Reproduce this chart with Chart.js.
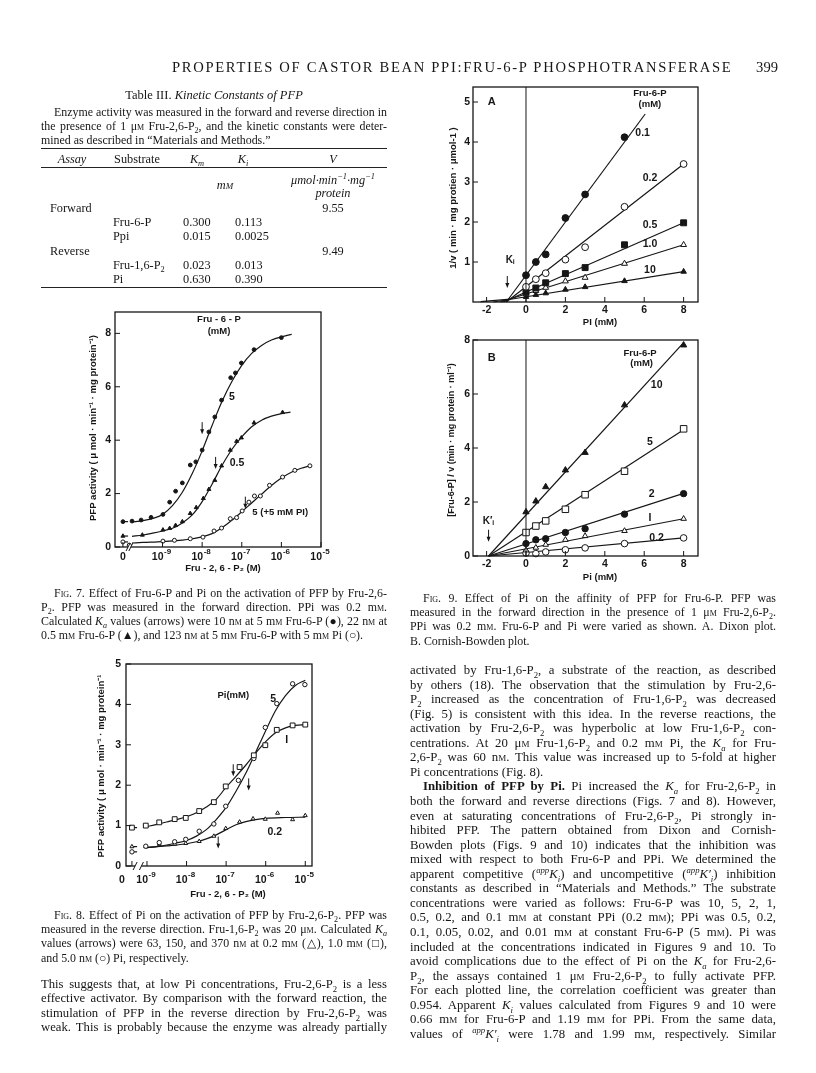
<!DOCTYPE html>
<html>
<head>
<meta charset="utf-8">
<title>Properties of castor bean PPi:Fru-6-P phosphotransferase</title>
<script src="https://cdn.jsdelivr.net/npm/chart.js@4.4.1/dist/chart.umd.min.js"></script>
<style>
  html, body { margin: 0; padding: 0; background: #fff; }
  #page { position: relative; width: 816px; height: 1073px; overflow: hidden;
          font-family: "Liberation Serif", "Times New Roman", serif; color: #161616; }
  .l { position: absolute; white-space: nowrap; line-height: 14px; height: 14px; }
  .j { text-align: justify; text-align-last: justify; }
  .c { text-align: center; }
  .sc { font-variant: small-caps; }
  sub, sup { font-size: 68%; line-height: 0; }
  .rule { position: absolute; height: 0; border-top: 1px solid #222; }
  canvas { position: absolute; left: 0; top: 0; }
</style>
</head>
<body>
<div id="page">
  <canvas id="fig7" width="816" height="1073"></canvas>
  <canvas id="fig8" width="816" height="1073"></canvas>
  <canvas id="fig9a" width="816" height="1073"></canvas>
  <canvas id="fig9b" width="816" height="1073"></canvas>
</div>
<script>
// ---------- Fig. 7 : forward direction, log10[Fru-2,6-P2] (M); null = no activator ----------
const f7Fru5X = [null, -9.77, -9.54, -9.29, -8.99, -8.82, -8.67, -8.5, -8.3, -8.16, -8.0, -7.83, -7.68, -7.51, -7.28, -7.16, -7.01, -6.69, -6.0];
const f7Fru5Y = [0.95, 0.97, 1.01, 1.11, 1.22, 1.68, 2.09, 2.4, 3.07, 3.19, 3.63, 4.31, 4.87, 5.5, 6.34, 6.52, 6.89, 7.39, 7.84];
const f7Fru05X = [null, -9.51, -8.99, -8.82, -8.67, -8.5, -8.3, -8.15, -7.97, -7.83, -7.68, -7.51, -7.29, -7.13, -7.01, -6.69, -5.97];
const f7Fru05Y = [0.41, 0.45, 0.64, 0.7, 0.81, 0.95, 1.26, 1.48, 1.82, 2.16, 2.5, 3.04, 3.63, 3.96, 4.09, 4.65, 5.04];
const f7PiX = [null, -9.84, -8.99, -8.7, -8.3, -7.98, -7.7, -7.51, -7.29, -7.13, -6.99, -6.82, -6.68, -6.53, -6.3, -5.97, -5.66, -5.28];
const f7PiY = [0.19, 0.07, 0.22, 0.25, 0.31, 0.37, 0.6, 0.71, 1.06, 1.1, 1.35, 1.68, 1.91, 1.91, 2.31, 2.62, 2.87, 3.04];
const f7Curve5 = [[-9.77, 0.93], [-9.5, 0.99], [-9.25, 1.07], [-9, 1.22], [-8.75, 1.55], [-8.5, 2.05], [-8.25, 2.75], [-8, 3.6], [-7.75, 4.55], [-7.5, 5.45], [-7.25, 6.2], [-7, 6.8], [-6.75, 7.25], [-6.5, 7.55], [-6.25, 7.75], [-6, 7.87], [-5.74, 7.96]];
const f7Curve05 = [[-9.77, 0.4], [-9.5, 0.45], [-9.25, 0.52], [-9, 0.6], [-8.75, 0.7], [-8.5, 0.9], [-8.25, 1.2], [-8, 1.7], [-7.75, 2.35], [-7.5, 3.05], [-7.25, 3.65], [-7, 4.12], [-6.75, 4.5], [-6.5, 4.75], [-6.25, 4.9], [-6, 4.99], [-5.77, 5.05]];
const f7CurvePi = [[-9.77, 0.15], [-9.5, 0.17], [-9, 0.2], [-8.5, 0.26], [-8.25, 0.31], [-8, 0.38], [-7.75, 0.5], [-7.5, 0.72], [-7.25, 1.0], [-7, 1.32], [-6.75, 1.65], [-6.5, 1.98], [-6.25, 2.3], [-6, 2.58], [-5.75, 2.8], [-5.5, 2.95], [-5.28, 3.04]];
const f7Ka = [[-8.0, 4.45], [-7.66, 3.15], [-6.91, 1.66]];   // 10, 22, 123 nM
const f7Decades = [-9, -8, -7, -6, -5];

// ---------- Fig. 8 : reverse direction ----------
const f8Pi1X = [null, -9.03, -8.69, -8.3, -8.02, -7.68, -7.31, -7.01, -6.66, -6.3, -6.01, -5.72, -5.32, -5.0];
const f8Pi1Y = [0.95, 1.0, 1.08, 1.16, 1.19, 1.36, 1.58, 1.97, 2.45, 2.74, 2.99, 3.37, 3.48, 3.5];
const f8Pi5X = [null, -9.03, -8.69, -8.3, -8.02, -7.68, -7.31, -7.01, -6.69, -6.3, -6.01, -5.72, -5.32, -5.01];
const f8Pi5Y = [0.35, 0.49, 0.58, 0.6, 0.66, 0.86, 1.04, 1.48, 2.12, 2.66, 3.43, 4.02, 4.51, 4.49];
const f8Pi02X = [null, -9.03, -8.69, -8.3, -8.02, -7.68, -7.31, -7.01, -6.66, -6.32, -6.01, -5.7, -5.32, -5.0];
const f8Pi02Y = [0.48, 0.48, 0.54, 0.54, 0.56, 0.61, 0.74, 0.93, 1.09, 1.17, 1.16, 1.31, 1.15, 1.25];
const f8Curve1 = [[-9.03, 0.97], [-8.75, 1.03], [-8.5, 1.09], [-8.25, 1.15], [-8, 1.22], [-7.75, 1.32], [-7.5, 1.46], [-7.25, 1.65], [-7, 1.95], [-6.75, 2.22], [-6.5, 2.5], [-6.25, 2.8], [-6, 3.08], [-5.75, 3.3], [-5.5, 3.42], [-5.25, 3.48], [-5, 3.5]];
const f8Curve5 = [[-9.03, 0.45], [-8.75, 0.48], [-8.5, 0.52], [-8.25, 0.57], [-8, 0.63], [-7.75, 0.74], [-7.5, 0.9], [-7.25, 1.15], [-7, 1.45], [-6.75, 1.85], [-6.5, 2.3], [-6.25, 2.82], [-6, 3.35], [-5.75, 3.85], [-5.5, 4.22], [-5.25, 4.47], [-5, 4.6]];
const f8Curve02 = [[-9.03, 0.46], [-8.75, 0.48], [-8.5, 0.5], [-8.25, 0.52], [-8, 0.55], [-7.75, 0.6], [-7.5, 0.67], [-7.25, 0.77], [-7, 0.9], [-6.75, 1.02], [-6.5, 1.1], [-6.25, 1.15], [-6, 1.18], [-5.5, 1.2], [-5, 1.21]];
const f8Ka = [[-6.82, 2.37], [-6.43, 2.02], [-7.2, 0.58]];    // 150, 370, 63 nM
const f8Decades = [-9, -8, -7, -6, -5];

// ---------- Fig. 9 : Pi (mM) ----------
const f9Pi = [0, 0.5, 1, 2, 3, 5, 8];
const f9aFru01 = [0.67, 1.0, 1.19, 2.1, 2.69, 4.12];
const f9aFru02 = [0.38, 0.57, 0.72, 1.06, 1.37, 2.38, 3.45];
const f9aFru05 = [0.25, 0.35, 0.48, 0.71, 0.86, 1.43, 1.98];
const f9aFru1 = [0.2, 0.28, 0.36, 0.52, 0.61, 0.96, 1.43];
const f9aFru10 = [0.13, 0.18, 0.22, 0.31, 0.375, 0.525, 0.76];
const f9aLines = [[[-1.0, 0], [6.05, 4.7]], [[-1.0, 0], [8, 3.45]], [[-1.15, 0], [8, 1.98]], [[-1.3, 0], [8, 1.43]], [[-1.65, 0], [8, 0.76]], [[-2.3, 0.01], [-0.8, 0.07]]];
const f9bFru10 = [1.63, 2.03, 2.56, 3.18, 3.83, 5.59, 7.81];
const f9bFru5 = [0.87, 1.11, 1.3, 1.73, 2.27, 3.14, 4.71];
const f9bFru2 = [0.46, 0.6, 0.64, 0.87, 1.01, 1.55, 2.31];
const f9bFru1 = [0.21, 0.31, 0.42, 0.6, 0.74, 0.93, 1.38];
const f9bFru02 = [0.11, 0.09, 0.15, 0.23, 0.3, 0.46, 0.67];
const f9bLines = [[[-1.9, 0], [8, 7.9]], [[-1.9, 0], [8, 4.68]], [[-1.9, 0], [8, 2.32]], [[-1.9, 0], [8, 1.38]], [[-1.9, 0], [8, 0.67]]];
const f9Ticks = [-2, 0, 2, 4, 6, 8];

const INK = '#161616';
const SANS = '"Liberation Sans", Arial, sans-serif';

// ---------- page text ----------
const page = document.getElementById('page');
function put(html, css, cls) {
  const d = document.createElement('div');
  d.className = cls || 'l';
  d.style.cssText = css;
  d.innerHTML = html.replace(/<sc>/g, '<span class="sc">').replace(/<\/sc>/g, '</span>');
  page.appendChild(d);
  return d;
}
function lines(x, w, y0, step, size, arr) {
  arr.forEach((s, i) => {
    let left = x, width = w, cls = 'l j';
    if (s[0] === '>') { s = s.slice(1); left += 13; width -= 13; }
    if (s[0] === '~') { s = s.slice(1); cls = 'l'; }
    put(s, `left:${left}px;top:${(y0 + i * step - 7).toFixed(1)}px;width:${width}px;font-size:${size}px`, cls);
  });
}
function rule(x, y, w) { const d = document.createElement('div'); d.className = 'rule'; d.style.cssText = `left:${x}px;top:${y}px;width:${w}px`; page.appendChild(d); }

// running head: letter-spaced to span 172..731
const head = put('PROPERTIES OF CASTOR BEAN PPI:FRU-6-P PHOSPHOTRANSFERASE', 'left:172px;top:59px;font-size:14.6px;line-height:16px;height:16px', 'l');
const headLen = head.textContent.length;
head.style.letterSpacing = ((559 - head.getBoundingClientRect().width) / (headLen - 1)).toFixed(2) + 'px';
put('399', 'left:740px;top:59px;width:38px;font-size:14.6px;line-height:16px;text-align:right', 'l');

put('Table III. <i>Kinetic Constants of PFP</i>', 'left:41px;top:88px;width:346px;font-size:12.5px', 'l c');
lines(41, 346, 111.7, 14.2, 11.9, [
  '>Enzyme activity was measured in the forward and reverse direction in',
  'the presence of 1 μ<sc>m</sc> Fru-2,6-P<sub>2</sub>, and the kinetic constants were deter-',
  '~mined as described in “Materials and Methods.”'
]);
rule(41, 148, 346); rule(41, 167, 346); rule(41, 286.5, 346);
const cell = (h, cx, cy, extra) => put(h, `left:${cx - 60}px;top:${cy - 7}px;width:120px;font-size:12.3px;${extra || ''}`, 'l c');
const cellL = (h, x, cy) => put(h, `left:${x}px;top:${cy - 7}px;font-size:12.3px`, 'l');
cell('<i>Assay</i>', 72, 158.5); cell('Substrate', 137, 158.5); cell('<i>K<sub>m</sub></i>', 197, 158.5);
cell('<i>K<sub>i</sub></i>', 243, 158.5); cell('<i>V</i>', 333, 158.5);
cell('<i>m<sc>m</sc></i>', 225, 185);
cell('<i>μmol·min<sup>−1</sup>·mg<sup>−1</sup></i>', 333, 179.5); cell('<i>protein</i>', 333, 193);
cellL('Forward', 50, 208.3); cell('9.55', 333, 208.3);
cellL('Fru-6-P', 113, 222.2); cellL('0.300', 183, 222.2); cellL('0.113', 235, 222.2);
cellL('Ppi', 113, 236.4); cellL('0.015', 183, 236.4); cellL('0.0025', 235, 236.4);
cellL('Reverse', 50, 250.5); cell('9.49', 333, 250.5);
cellL('Fru-1,6-P<sub>2</sub>', 113, 264.6); cellL('0.023', 183, 264.6); cellL('0.013', 235, 264.6);
cellL('Pi', 113, 278.6); cellL('0.630', 183, 278.6); cellL('0.390', 235, 278.6);

lines(41, 346, 592.5, 14.2, 11.9, [
  '>F<sc>ig</sc>. 7. Effect of Fru-6-P and Pi on the activation of PFP by Fru-2,6-',
  'P<sub>2</sub>. PFP was measured in the forward direction. PPi was 0.2 m<sc>m</sc>.',
  'Calculated <i>K<sub>a</sub></i> values (arrows) were 10 n<sc>m</sc> at 5 m<sc>m</sc> Fru-6-P (●), 22 n<sc>m</sc> at',
  '~0.5 m<sc>m</sc> Fru-6-P (▲), and 123 n<sc>m</sc> at 5 m<sc>m</sc> Fru-6-P with 5 m<sc>m</sc> Pi (○).'
]);
lines(41, 346, 915, 14.2, 11.9, [
  '>F<sc>ig</sc>. 8. Effect of Pi on the activation of PFP by Fru-2,6-P<sub>2</sub>. PFP was',
  'measured in the reverse direction. Fru-1,6-P<sub>2</sub> was 20 μ<sc>m</sc>. Calculated <i>K<sub>a</sub></i>',
  'values (arrows) were 63, 150, and 370 n<sc>m</sc> at 0.2 m<sc>m</sc> (△), 1.0 m<sc>m</sc> (□),',
  '~and 5.0 n<sc>m</sc> (○) Pi, respectively.'
]);
lines(41, 346, 984, 14.3, 12.7, [
  'This suggests that, at low Pi concentrations, Fru-2,6-P<sub>2</sub> is a less',
  'effective activator. By comparison with the forward reaction, the',
  'stimulation of PFP in the reverse direction by Fru-2,6-P<sub>2</sub> was',
  'weak. This is probably because the enzyme was already partially'
]);
lines(410, 366, 598, 14.2, 11.9, [
  '>F<sc>ig</sc>. 9. Effect of Pi on the affinity of PFP for Fru-6-P. PFP was',
  'measured in the forward direction in the presence of 1 μ<sc>m</sc> Fru-2,6-P<sub>2</sub>.',
  'PPi was 0.2 m<sc>m</sc>. Fru-6-P and Pi were varied as shown. A. Dixon plot.',
  '~B. Cornish-Bowden plot.'
]);
lines(410, 366, 670, 14.55, 12.8, [
  'activated by Fru-1,6-P<sub>2</sub>, a substrate of the reaction, as described',
  'by others (18). The observation that the stimulation by Fru-2,6-',
  'P<sub>2</sub> increased as the concentration of Fru-1,6-P<sub>2</sub> was decreased',
  '(Fig. 5) is consistent with this idea. In the reverse reactions, the',
  'activation by Fru-2,6-P<sub>2</sub> was hyperbolic at low Fru-1,6-P<sub>2</sub> con-',
  'centrations. At 20 μ<sc>m</sc> Fru-1,6-P<sub>2</sub> and 0.2 m<sc>m</sc> Pi, the <i>K<sub>a</sub></i> for Fru-',
  '2,6-P<sub>2</sub> was 60 n<sc>m</sc>. This value was increased up to 5-fold at higher',
  '~Pi concentrations (Fig. 8).',
  '><b>Inhibition of PFP by Pi.</b> Pi increased the <i>K<sub>a</sub></i> for Fru-2,6-P<sub>2</sub> in',
  'both the forward and reverse directions (Figs. 7 and 8). However,',
  'even at saturating concentrations of Fru-2,6-P<sub>2</sub>, Pi strongly in-',
  'hibited PFP. The pattern obtained from Dixon and Cornish-',
  'Bowden plots (Figs. 9 and 10) indicates that the inhibition was',
  'mixed with respect to both Fru-6-P and PPi. We determined the',
  'apparent competitive (<sup><i>app</i></sup><i>K<sub>i</sub></i>) and uncompetitive (<sup><i>app</i></sup><i>K′<sub>i</sub></i>) inhibition',
  'constants as described in “Materials and Methods.” The substrate',
  'concentrations were varied as follows: Fru-6-P was 10, 5, 2, 1,',
  '0.5, 0.2, and 0.1 m<sc>m</sc> at constant PPi (0.2 m<sc>m</sc>); PPi was 0.5, 0.2,',
  '0.1, 0.05, 0.02, and 0.01 m<sc>m</sc> at constant Fru-6-P (5 m<sc>m</sc>). Pi was',
  'included at the concentrations indicated in Figures 9 and 10. To',
  'avoid complications due to the effect of Pi on the <i>K<sub>a</sub></i> for Fru-2,6-',
  'P<sub>2</sub>, the assays contained 1 μ<sc>m</sc> Fru-2,6-P<sub>2</sub> to fully activate PFP.',
  'For each plotted line, the correlation coefficient was greater than',
  '0.954. Apparent <i>K<sub>i</sub></i> values calculated from Figures 9 and 10 were',
  '0.66 m<sc>m</sc> for Fru-6-P and 1.19 m<sc>m</sc> for PPi. From the same data,',
  'values of <sup><i>app</i></sup><i>K′<sub>i</sub></i> were 1.78 and 1.99 m<sc>m</sc>, respectively. Similar'
]);

// ---------- chart helpers ----------
const pts = (xs, ys, zero) => ys.map((y, i) => ({ x: xs[i] === null ? zero : xs[i], y }));
const pairs = arr => arr.map(p => ({ x: p[0], y: p[1] }));
function marks(data, style, filled, r) {
  return { data, showLine: false, pointStyle: style, pointRadius: r, pointBorderWidth: 1,
           pointBackgroundColor: filled ? INK : '#fff', pointBorderColor: INK, order: 0, clip: false };
}
function curve(data, smooth) {
  return { data, showLine: true, pointRadius: 0, borderColor: INK, borderWidth: 1.2,
           cubicInterpolationMode: smooth ? 'monotone' : 'default', tension: 0, order: 1, clip: false };
}
function stub(zero, y) { return curve([{ x: zero, y }, { x: zero + 0.13, y }], false); }

function text(ctx, s, x, y, size, rot, align) {
  ctx.save();
  ctx.translate(x, y);
  if (rot) ctx.rotate(rot);
  ctx.font = `bold ${size}px ${SANS}`;
  ctx.textAlign = align || 'center';
  ctx.textBaseline = 'middle';
  ctx.fillStyle = INK;
  ctx.fillText(s, 0, 0);
  ctx.restore();
}
function arrow(ctx, x, y) {
  ctx.beginPath(); ctx.moveTo(x, y - 6); ctx.lineTo(x, y + 2); ctx.stroke();
  ctx.beginPath(); ctx.moveTo(x - 2, y + 1); ctx.lineTo(x + 2, y + 1); ctx.lineTo(x, y + 6); ctx.closePath(); ctx.fill();
}

const decoPlugin = {
  id: 'deco',
  afterDraw(chart, args, o) {
    const { ctx, chartArea: a } = chart;
    const sx = chart.scales.x, sy = chart.scales.y;
    ctx.save();
    ctx.strokeStyle = INK; ctx.fillStyle = INK; ctx.lineWidth = 1.3;
    ctx.strokeRect(a.left, a.top, a.right - a.left, a.bottom - a.top);
    ctx.lineWidth = 1;
    ctx.beginPath();
    sy.ticks.forEach(t => { const p = sy.getPixelForValue(t.value); ctx.moveTo(a.left, p); ctx.lineTo(a.left + 5, p); });
    sx.ticks.forEach(t => { const p = sx.getPixelForValue(t.value); ctx.moveTo(p, a.bottom); ctx.lineTo(p, a.bottom - 5); });
    if (o.vzero) { const p = sx.getPixelForValue(0); ctx.moveTo(p, a.bottom); ctx.lineTo(p, a.top); }
    ctx.stroke();
    if (o.gap) {
      const g0 = sx.getPixelForValue(o.gap[0]), g1 = sx.getPixelForValue(o.gap[1]);
      ctx.fillStyle = '#fff'; ctx.fillRect(g0, a.bottom - 2, g1 - g0, 4); ctx.fillStyle = INK;
      ctx.beginPath();
      [g0, g1].forEach(g => { ctx.moveTo(g - 2, a.bottom + 4); ctx.lineTo(g + 2, a.bottom - 4); });
      ctx.stroke();
    }
    (o.arrows || []).forEach(p => arrow(ctx, sx.getPixelForValue(p[0]), sy.getPixelForValue(p[1])));
    (o.labels || []).forEach(l => text(ctx, l.t, sx.getPixelForValue(l.x), sy.getPixelForValue(l.y), l.s || 10.5));
    if (o.decades) {
      o.decades.forEach(v => {
        const p = sx.getPixelForValue(v);
        text(ctx, '10', p + 1, o.decadeY, 10.5, 0, 'right');
        text(ctx, String(v), p + 1.5, o.decadeY - 5, 8, 0, 'left');
      });
      text(ctx, '0', sx.getPixelForValue(o.zeroLabel), o.decadeY, 10.5);
    }
    (o.titles || []).forEach(t => text(ctx, t.t, t.x, t.y, t.s || 10, t.r ? -Math.PI / 2 : 0));
    ctx.restore();
  }
};

function build(id, box, xAxis, yAxis, datasets, deco) {
  const base = { type: 'linear', grid: { display: false, drawTicks: false }, border: { display: false } };
  const tickFont = { family: SANS, size: 10.5, weight: 'bold' };
  return new Chart(document.getElementById(id), {
    type: 'scatter',
    data: { datasets },
    options: {
      responsive: false, animation: false, events: [],
      layout: { autoPadding: false, padding: { left: box.l - 40, top: box.t, right: 816 - box.r, bottom: 1073 - box.b - 40 } },
      plugins: { legend: { display: false }, tooltip: { enabled: false }, deco },
      scales: {
        x: Object.assign({}, base, { min: xAxis.min, max: xAxis.max,
          ticks: { display: xAxis.show, font: tickFont, color: INK, padding: xAxis.pad },
          afterBuildTicks: s => { s.ticks = xAxis.ticks.map(v => ({ value: v })); },
          afterFit: s => { s.height = 40; } }),
        y: Object.assign({}, base, { min: yAxis.min, max: yAxis.max,
          ticks: { font: tickFont, color: INK, padding: yAxis.pad },
          afterBuildTicks: s => { s.ticks = yAxis.ticks.map(v => ({ value: v })); },
          afterFit: s => { s.width = 40; } })
      }
    },
    plugins: [decoPlugin]
  });
}

// ---------- Fig. 7 ----------
const Z7 = -10;
build('fig7', { l: 115, t: 312, r: 321, b: 547 },
  { min: -10.2, max: -5.0, ticks: [Z7].concat(f7Decades), show: false, pad: 4 },
  { min: 0, max: 8.8, ticks: [0, 2, 4, 6, 8], pad: 4 },
  [
    marks(pts(f7Fru5X, f7Fru5Y, Z7), 'circle', true, 1.9),
    marks(pts(f7Fru05X, f7Fru05Y, Z7), 'triangle', true, 2.3),
    marks(pts(f7PiX, f7PiY, Z7), 'circle', false, 2.0),
    curve(pairs(f7Curve5), true), curve(pairs(f7Curve05), true), curve(pairs(f7CurvePi), true),
    stub(Z7, f7Fru5Y[0]), stub(Z7, f7Fru05Y[0]), stub(Z7, f7PiY[0])
  ],
  { arrows: f7Ka, gap: [-9.87, -9.8], decades: f7Decades, zeroLabel: Z7, decadeY: 557,
    labels: [{ t: 'Fru - 6 - P', x: -7.575, y: 8.52, s: 9.5 }, { t: '(mM)', x: -7.575, y: 8.08, s: 9.5 },
             { t: '5', x: -7.25, y: 5.6 }, { t: '0.5', x: -7.12, y: 3.14 }, { t: '5 (+5 mM PI)', x: -6.03, y: 1.31, s: 9.5 }],
    titles: [{ t: 'PFP activity ( μ mol · min⁻¹ · mg protein⁻¹)', x: 93, y: 428, r: 1, s: 9.5 },
             { t: 'Fru - 2, 6 - P₂ (M)', x: 223, y: 568, s: 9.5 }] });

// ---------- Fig. 8 ----------
const Z8 = -9.38;
build('fig8', { l: 126, t: 664, r: 312, b: 866 },
  { min: -9.53, max: -4.83, ticks: [Z8].concat(f8Decades), show: false, pad: 4 },
  { min: 0, max: 5, ticks: [0, 1, 2, 3, 4, 5], pad: 5 },
  [
    marks(pts(f8Pi1X, f8Pi1Y, Z8), 'rect', false, 3.4),
    marks(pts(f8Pi5X, f8Pi5Y, Z8), 'circle', false, 2.2),
    marks(pts(f8Pi02X, f8Pi02Y, Z8), 'triangle', false, 2.3),
    curve(pairs(f8Curve1), true), curve(pairs(f8Curve5), true), curve(pairs(f8Curve02), true),
    stub(Z8, f8Pi1Y[0]), stub(Z8, f8Pi5Y[0]), stub(Z8, f8Pi02Y[0])
  ],
  { arrows: f8Ka, gap: [-9.3, -9.14], decades: f8Decades, zeroLabel: -9.63, decadeY: 880,
    labels: [{ t: 'Pi(mM)', x: -6.82, y: 4.22, s: 9.5 }, { t: '5', x: -5.81, y: 4.14 },
             { t: 'I', x: -5.47, y: 3.11 }, { t: '0.2', x: -5.77, y: 0.85 }],
    titles: [{ t: 'PFP activity ( μ mol · min⁻¹ · mg protein⁻¹', x: 101, y: 766, r: 1, s: 9.5 },
             { t: 'Fru - 2, 6 - P₂ (M)', x: 228, y: 894, s: 9.5 }] });

// ---------- Fig. 9A (Dixon) ----------
build('fig9a', { l: 473, t: 87, r: 698, b: 302 },
  { min: -2.69, max: 8.73, ticks: f9Ticks, show: true, pad: 2 },
  { min: 0, max: 5.375, ticks: [1, 2, 3, 4, 5], pad: 3 },
  [
    marks(pts(f9Pi, f9aFru01, 0), 'circle', true, 3.4),
    marks(pts(f9Pi, f9aFru02, 0), 'circle', false, 3.4),
    marks(pts(f9Pi, f9aFru05, 0), 'rect', true, 4.2),
    marks(pts(f9Pi, f9aFru1, 0), 'triangle', false, 3.4),
    marks(pts(f9Pi, f9aFru10, 0), 'triangle', true, 3.2)
  ].concat(f9aLines.map(l => curve(pairs(l), false))),
  { vzero: true, arrows: [[-0.95, 0.5]],
    labels: [{ t: 'A', x: -1.74, y: 5.0, s: 11 }, { t: 'Fru-6-P', x: 6.29, y: 5.22, s: 9.5 }, { t: '(mM)', x: 6.29, y: 4.93, s: 9.5 },
             { t: '0.1', x: 5.92, y: 4.22 }, { t: '0.2', x: 6.29, y: 3.09 }, { t: '0.5', x: 6.29, y: 1.91 },
             { t: '1.0', x: 6.29, y: 1.45 }, { t: '10', x: 6.29, y: 0.8 }, { t: 'Kᵢ', x: -0.81, y: 1.05, s: 10 }],
    titles: [{ t: '1/v ( min · mg protien · μmol-1 )', x: 453, y: 198, r: 1, s: 9.5 },
             { t: 'PI (mM)', x: 600, y: 322, s: 9.5 }] });

// ---------- Fig. 9B (Cornish-Bowden) ----------
build('fig9b', { l: 473, t: 340, r: 698, b: 556 },
  { min: -2.69, max: 8.73, ticks: f9Ticks, show: true, pad: 2 },
  { min: 0, max: 8, ticks: [0, 2, 4, 6, 8], pad: 3 },
  [
    marks(pts(f9Pi, f9bFru10, 0), 'triangle', true, 3.6),
    marks(pts(f9Pi, f9bFru5, 0), 'rect', false, 4.6),
    marks(pts(f9Pi, f9bFru2, 0), 'circle', true, 3.2),
    marks(pts(f9Pi, f9bFru1, 0), 'triangle', false, 3.2),
    marks(pts(f9Pi, f9bFru02, 0), 'circle', false, 3.3)
  ].concat(f9bLines.map(l => curve(pairs(l), false))),
  { vzero: true, arrows: [[-1.9, 0.75]],
    labels: [{ t: 'B', x: -1.74, y: 7.32, s: 11 }, { t: 'Fru-6-P', x: 5.79, y: 7.5, s: 9.5 }, { t: '(mM)', x: 5.87, y: 7.14, s: 9.5 },
             { t: '10', x: 6.63, y: 6.33 }, { t: '5', x: 6.29, y: 4.21 }, { t: '2', x: 6.38, y: 2.3 },
             { t: 'I', x: 6.29, y: 1.4 }, { t: '0.2', x: 6.63, y: 0.66 }, { t: 'K′ᵢ', x: -1.91, y: 1.3, s: 10 }],
    titles: [{ t: '[Fru-6-P] / v (min · mg protein · ml⁻¹)', x: 452, y: 440, r: 1, s: 9 },
             { t: 'Pi (mM)', x: 600, y: 577, s: 9.5 }] });
</script>
</body>
</html>
